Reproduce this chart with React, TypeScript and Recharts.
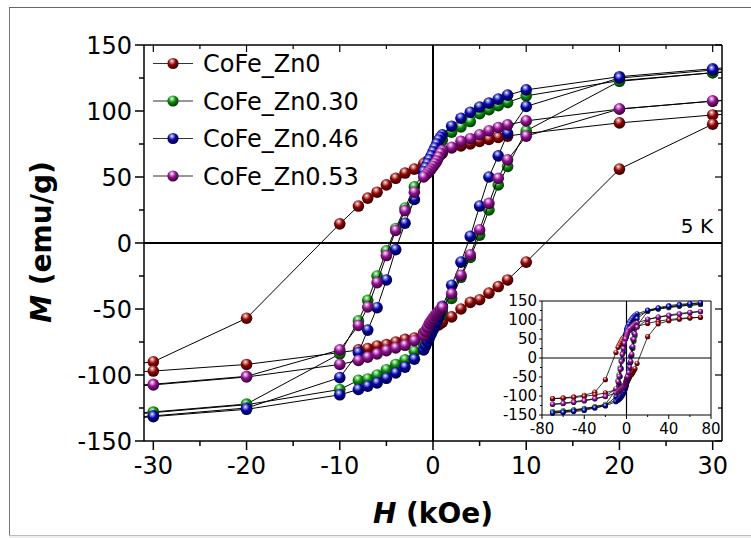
import React from "react";
import { ScatterChart, Scatter, XAxis, YAxis, ReferenceLine } from "recharts";

const FONT = "'DejaVu Sans', sans-serif";

// field steps (kOe): sweep down from +70, then back up from -70
const fieldDown = [70, 60, 50, 40, 30, 20, 10, 8, 7, 6, 5, 4, 3, 2, 1, 0.8, 0.6, 0.4, 0.2, 0, -0.2, -0.4, -0.6, -0.8, -1, -2, -3, -4, -5, -6, -7, -8, -10, -20, -30, -40, -50, -60, -70];
const fieldUp = [-70, -60, -50, -40, -30, -20, -10, -8, -7, -6, -5, -4, -3, -2, -1, -0.8, -0.6, -0.4, -0.2, 0, 0.2, 0.4, 0.6, 0.8, 1, 2, 3, 4, 5, 6, 7, 8, 10, 20, 30, 40, 50, 60, 70];

// magnetisation (emu/g)
const zn0Down = [107, 106, 104, 101, 97, 91, 83, 81, 80, 78.5, 77, 75, 73.5, 72, 68, 67, 66.5, 66, 65, 64, 63.5, 63, 62, 61, 60, 56, 53, 49, 44, 38.5, 34, 28, 14.5, -57, -90, -98, -102, -105, -107];
const zn0Up = [-107, -106, -104, -101, -97, -92, -83, -81, -80, -78, -77, -75, -73, -72, -68, -67, -66, -65.5, -65, -64, -63, -62.5, -62, -61, -60, -56, -50, -45, -43, -38, -33, -28, -14.5, 56, 90, 98, 102, 105, 107];

const zn30Down = [141, 139, 137, 134, 129, 123, 111.5, 106.5, 104, 101, 98, 92, 88, 84, 78, 76, 74, 71, 68, 66, 63, 61, 58, 56, 53, 42.5, 26.5, 11, -6, -25, -43.5, -59, -84, -122, -128, -132.5, -136, -139, -141];
const zn30Up = [-141, -139, -137, -134, -128.5, -122.5, -111, -104, -103, -100, -96, -92, -88.5, -82, -77, -75, -73, -70, -68, -65, -62, -60, -57, -55, -52, -42, -26, -11, 6, 25, 44, 58, 85, 122.5, 129, 132.5, 136, 139, 141];

const zn46Down = [145, 143.5, 141, 138, 132, 126, 116, 112, 109, 106, 103, 99, 94.5, 88.5, 82, 80, 78, 75, 72, 69, 66, 63, 60, 57, 54, 33, 15, -5, -28, -49, -66, -83, -102, -125, -131, -135, -139, -142, -145];
const zn46Up = [-145, -143.5, -141, -138, -131.5, -126, -115, -111, -108.5, -106, -102.5, -98.5, -94, -88, -81, -78, -75, -72, -69, -66, -63, -60, -56, -52, -48, -32, -14.5, 5, 28, 50, 66, 83, 103.5, 125, 131, 135, 139, 142, 145];

const zn53Down = [123, 120, 117, 113, 107.5, 101.5, 92.5, 89.5, 87.5, 85, 82, 79, 77, 72.5, 70, 68, 65, 62, 60, 58, 56, 54.5, 53, 51.5, 50, 38.5, 24.5, 9.5, -9.5, -30, -48.5, -62.5, -81, -101, -107, -111, -115, -119, -122];
const zn53Up = [-122, -120, -117, -113, -107.5, -101.5, -92, -89, -86.5, -84, -81.5, -79.5, -77.5, -74, -70, -67, -64, -61, -59, -57, -55, -53.5, -52, -50.5, -49, -38.5, -24.5, -9, 10, 30, 49, 63, 81, 101.5, 107.5, 111, 115, 119, 122];

const seriesNames = ["CoFe_Zn0", "CoFe_Zn0.30", "CoFe_Zn0.46", "CoFe_Zn0.53"];
// base, highlight, shade
const ballColors = [
  ["#8a0606", "#e59a9a", "#420000"],
  ["#0b8a0b", "#9be29b", "#003f00"],
  ["#0606a2", "#9c9cf0", "#00004a"],
  ["#8c148c", "#e6a0e6", "#420042"],
];

const mainXTicks = [-30, -25, -20, -15, -10, -5, 0, 5, 10, 15, 20, 25, 30];
const mainYTicks = [-150, -125, -100, -75, -50, -25, 0, 25, 50, 75, 100, 125, 150];
const insetXTicks = [-80, -60, -40, -20, 0, 20, 40, 60, 80];
const insetYTicks = [-150, -125, -100, -75, -50, -25, 0, 25, 50, 75, 100, 125, 150];

const loop = (down: number[], up: number[]) => [
  ...fieldDown.map((h, i) => ({ h, m: down[i] })),
  ...fieldUp.map((h, i) => ({ h, m: up[i] })),
];

const loops = [loop(zn0Down, zn0Up), loop(zn30Down, zn30Up), loop(zn46Down, zn46Up), loop(zn53Down, zn53Up)];

const isMajor = (v: number, step: number) => Math.abs(v % step) < 1e-6;

const bottomTick = (step: number, len: number, minor: number, fs: number, off: number, sw: number) => (p: any) => {
  const v = p.payload.value;
  const mj = isMajor(v, step);
  return (
    <g>
      <line x1={p.x} x2={p.x} y1={p.y} y2={p.y + (mj ? len : minor)} stroke="#000" strokeWidth={sw} />
      {mj && (
        <text x={p.x} y={p.y + off} textAnchor="middle" fontSize={fs} fontFamily={FONT} fill="#000">
          {v}
        </text>
      )}
    </g>
  );
};

const leftTick = (step: number, len: number, minor: number, fs: number, off: number, sw: number) => (p: any) => {
  const v = p.payload.value;
  const mj = isMajor(v, step);
  return (
    <g>
      <line x1={p.x} x2={p.x - (mj ? len : minor)} y1={p.y} y2={p.y} stroke="#000" strokeWidth={sw} />
      {mj && (
        <text x={p.x - off} y={p.y + fs * 0.36} textAnchor="end" fontSize={fs} fontFamily={FONT} fill="#000">
          {v}
        </text>
      )}
    </g>
  );
};

const topTick = (step: number, len: number, minor: number, sw: number) => (p: any) => {
  const mj = isMajor(p.payload.value, step);
  return <line x1={p.x} x2={p.x} y1={p.y} y2={p.y + (mj ? len : minor)} stroke="#000" strokeWidth={sw} />;
};

const rightTick = (step: number, len: number, minor: number, sw: number) => (p: any) => {
  const mj = isMajor(p.payload.value, step);
  return <line x1={p.x} x2={p.x - (mj ? len : minor)} y1={p.y} y2={p.y} stroke="#000" strokeWidth={sw} />;
};

const ball = (idx: number, r: number) => (p: any) => {
  if (p.cx == null || p.cy == null) return <g />;
  return <circle cx={p.cx} cy={p.cy} r={r} fill={`url(#ball${idx})`} />;
};

export default function App() {
  return (
    <div style={{ position: "relative", width: 751, height: 538, overflow: "hidden", background: "#fff" }}>
      <style>{`html,body{margin:0;padding:0;overflow:hidden;background:#fff}`}</style>
      <svg width={0} height={0} style={{ position: "absolute" }}>
        <defs>
          {ballColors.map((c, i) => (
            <radialGradient key={i} id={`ball${i}`} cx="42%" cy="34%" r="62%" fx="40%" fy="28%">
              <stop offset="0%" stopColor="#ffffff" />
              <stop offset="16%" stopColor={c[1]} />
              <stop offset="52%" stopColor={c[0]} />
              <stop offset="100%" stopColor={c[2]} />
            </radialGradient>
          ))}
        </defs>
      </svg>

      {/* main chart */}
      <div style={{ position: "absolute", left: 0, top: 0 }}>
        <ScatterChart width={751} height={538} margin={{ top: 44, right: 28, bottom: 96, left: 143 }}>
          <XAxis
            dataKey="h"
            type="number"
            domain={[-31, 31]}
            allowDataOverflow
            ticks={mainXTicks}
            interval={0}
            height={1}
            tickSize={0}
            tickMargin={0}
            tickLine={false}
            axisLine={{ stroke: "#000", strokeWidth: 1.5 }}
            tick={bottomTick(10, 9, 5, 24, 33, 1.5)}
          />
          <XAxis
            xAxisId="top"
            orientation="top"
            dataKey="h"
            type="number"
            domain={[-31, 31]}
            allowDataOverflow
            ticks={mainXTicks}
            interval={0}
            height={1}
            tickSize={0}
            tickMargin={0}
            tickLine={false}
            axisLine={{ stroke: "#000", strokeWidth: 1.5 }}
            tick={topTick(10, 7, 4, 1.2)}
          />
          <YAxis
            dataKey="m"
            type="number"
            domain={[-150, 150]}
            allowDataOverflow
            ticks={mainYTicks}
            interval={0}
            width={1}
            tickSize={0}
            tickMargin={0}
            tickLine={false}
            axisLine={{ stroke: "#000", strokeWidth: 1.5 }}
            tick={leftTick(50, 9, 5, 24, 12, 1.5)}
          />
          <YAxis
            yAxisId="right"
            orientation="right"
            dataKey="m"
            type="number"
            domain={[-150, 150]}
            allowDataOverflow
            ticks={mainYTicks}
            interval={0}
            width={1}
            tickSize={0}
            tickMargin={0}
            tickLine={false}
            axisLine={{ stroke: "#000", strokeWidth: 1.5 }}
            tick={rightTick(50, 7, 4, 1.2)}
          />
          <ReferenceLine x={0} stroke="#000" strokeWidth={2} />
          <ReferenceLine y={0} stroke="#000" strokeWidth={2} />
          {loops.map((d, i) => (
            <Scatter
              key={seriesNames[i]}
              name={seriesNames[i]}
              data={d}
              line={{ stroke: "#000", strokeWidth: 1 }}
              lineType="joint"
              shape={ball(i, 5.8)}
              isAnimationActive={false}
            />
          ))}
        </ScatterChart>
      </div>

      {/* frame, titles, legend */}
      <svg width={751} height={538} style={{ position: "absolute", left: 0, top: 0, pointerEvents: "none" }}>
        <line x1={9.5} x2={9.5} y1={7.5} y2={535} stroke="#777" strokeWidth={1} />
        <line x1={9} x2={751} y1={7.5} y2={7.5} stroke="#666" strokeWidth={1} />
        <rect x={9} y={535} width={742} height={3} fill="#eeeeee" />
        <line x1={9} x2={751} y1={535.5} y2={535.5} stroke="#bbb" strokeWidth={1} />

        <text x={433} y={523} textAnchor="middle" fontSize={28} fontWeight="bold" fontFamily={FONT} fill="#000">
          <tspan fontStyle="italic">H</tspan>
          {" (kOe)"}
        </text>
        <text
          x={51}
          y={242}
          transform="rotate(-90, 51, 242)"
          textAnchor="middle"
          fontSize={28}
          fontWeight="bold"
          fontFamily={FONT}
          fill="#000"
        >
          <tspan fontStyle="italic">M</tspan>
          {" (emu/g)"}
        </text>
        <text x={713} y={233} textAnchor="end" fontSize={20} fontFamily={FONT} fill="#000">
          5 K
        </text>

        {seriesNames.map((n, i) => {
          const cy = 63.5 + i * 37.5;
          return (
            <g key={n}>
              <line x1={153} x2={193} y1={cy} y2={cy} stroke="#333" strokeWidth={1.2} />
              <circle cx={173} cy={cy} r={5.6} fill={`url(#ball${i})`} />
              <text x={203} y={cy + 8.7} fontSize={24} fontFamily={FONT} fill="#000">
                {n}
              </text>
            </g>
          );
        })}
      </svg>

      {/* inset */}
      <div style={{ position: "absolute", left: 480, top: 280 }}>
        <ScatterChart width={260} height={170} margin={{ top: 20, right: 28, bottom: 34, left: 61 }}>
          <XAxis
            dataKey="h"
            type="number"
            domain={[-80, 80]}
            ticks={insetXTicks}
            interval={0}
            height={1}
            tickSize={0}
            tickMargin={0}
            tickLine={false}
            axisLine={{ stroke: "#000", strokeWidth: 1 }}
            tick={bottomTick(40, 4, 2, 15, 18.5, 1)}
          />
          <XAxis
            xAxisId="top"
            orientation="top"
            dataKey="h"
            type="number"
            domain={[-80, 80]}
            ticks={insetXTicks}
            interval={0}
            height={1}
            tickSize={0}
            tickMargin={0}
            tickLine={false}
            axisLine={{ stroke: "#000", strokeWidth: 1 }}
            tick={topTick(40, 3, 2, 0.8)}
          />
          <YAxis
            dataKey="m"
            type="number"
            domain={[-150, 150]}
            ticks={insetYTicks}
            interval={0}
            width={1}
            tickSize={0}
            tickMargin={0}
            tickLine={false}
            axisLine={{ stroke: "#000", strokeWidth: 1 }}
            tick={leftTick(50, 3, 2, 15, 5, 1)}
          />
          <YAxis
            yAxisId="right"
            orientation="right"
            dataKey="m"
            type="number"
            domain={[-150, 150]}
            ticks={insetYTicks}
            interval={0}
            width={1}
            tickSize={0}
            tickMargin={0}
            tickLine={false}
            axisLine={{ stroke: "#000", strokeWidth: 1 }}
            tick={rightTick(50, 3, 2, 0.8)}
          />
          <ReferenceLine x={0} stroke="#000" strokeWidth={1.2} />
          <ReferenceLine y={0} stroke="#000" strokeWidth={1.2} />
          {loops.map((d, i) => (
            <Scatter
              key={seriesNames[i]}
              name={seriesNames[i]}
              data={d}
              line={{ stroke: "#000", strokeWidth: 0.8 }}
              lineType="joint"
              shape={ball(i, 2.6)}
              isAnimationActive={false}
            />
          ))}
        </ScatterChart>
      </div>
    </div>
  );
}
